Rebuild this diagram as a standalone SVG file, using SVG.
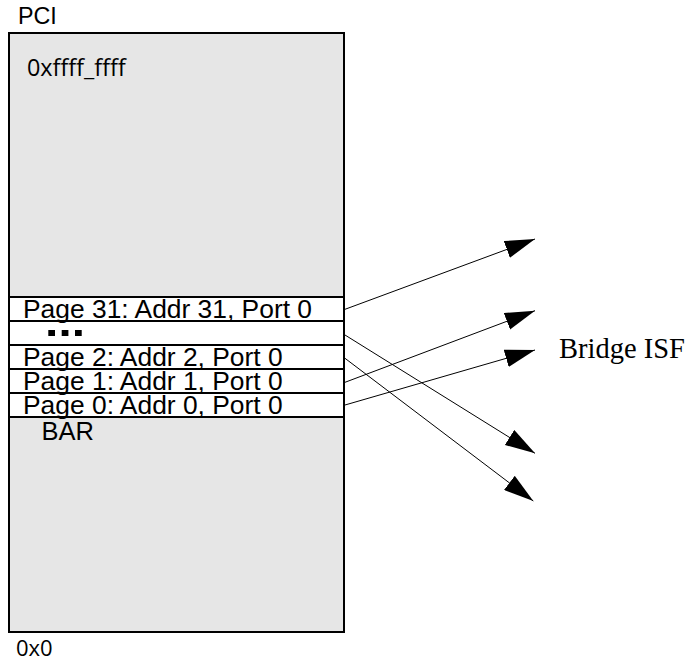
<svg xmlns="http://www.w3.org/2000/svg" width="690" height="662" viewBox="0 0 690 662">
<style>
.sans{font-family:"Liberation Sans",Arial,sans-serif;fill:#000}
.open{font-family:"Open Sans","Liberation Sans",sans-serif;fill:#000}
.row{font-family:"Liberation Sans",Arial,sans-serif;font-size:26.4px;fill:#000}
.sep{stroke:#000;stroke-width:2;fill:none}
.conn{stroke:#000;stroke-width:1;fill:none}
</style>
<defs>
<marker id="ah" markerUnits="userSpaceOnUse" markerWidth="30" markerHeight="18" viewBox="0 0 29 17.2" refX="29" refY="8.6" orient="auto">
<path d="M0,0 L29,8.6 L0,17.2 z" fill="#000"/>
</marker>
</defs>
<g id="pci-label"><text class="sans" x="18" y="23.5" font-size="23.3">PCI</text></g>
<g id="memory">
<rect x="9" y="33" width="335" height="599" fill="#e6e6e6" stroke="#000" stroke-width="2"/>
<text class="open" x="27" y="75.5" font-size="23.4">0xffff_ffff</text>
</g>
<g id="pages">
<rect x="9" y="297" width="335" height="120" fill="#fff"/>
<line class="sep" x1="9" y1="297" x2="344" y2="297"/>
<line class="sep" x1="9" y1="321" x2="344" y2="321"/>
<line class="sep" x1="9" y1="345" x2="344" y2="345"/>
<line class="sep" x1="9" y1="369" x2="344" y2="369"/>
<line class="sep" x1="9" y1="393" x2="344" y2="393"/>
<line class="sep" x1="9" y1="417" x2="344" y2="417"/>
<line class="sep" x1="9" y1="297" x2="9" y2="417"/>
<line class="sep" x1="344" y1="297" x2="344" y2="417"/>
<g id="page31"><text class="row" x="23" y="318">Page 31: Addr 31, Port 0</text></g>
<g id="dots"><rect x="48.3" y="330" width="6.7" height="6"/><rect x="61.7" y="330" width="6.7" height="6"/><rect x="75" y="330" width="6.7" height="6"/></g>
<g id="page2"><text class="row" x="23" y="365.5">Page 2: Addr 2, Port 0</text></g>
<g id="page1"><text class="row" x="23" y="389.5">Page 1: Addr 1, Port 0</text></g>
<g id="page0"><text class="row" x="23" y="413.5">Page 0: Addr 0, Port 0</text></g>
</g>
<g id="bar"><text class="sans" x="41.5" y="440" font-size="25.5">BAR</text></g>
<g id="zero"><text class="open" x="16" y="656" font-size="22">0x0</text></g>
<g id="bridge"><text x="559" y="358" font-family="'Liberation Serif','Times New Roman',serif" font-size="28.5">Bridge ISF</text></g>
<g id="connectors">
<line class="conn" x1="345" y1="309.3" x2="535" y2="239" marker-end="url(#ah)"/>
<line class="conn" x1="345" y1="382.3" x2="535" y2="310.7" marker-end="url(#ah)"/>
<line class="conn" x1="345" y1="405" x2="535" y2="350" marker-end="url(#ah)"/>
<line class="conn" x1="345" y1="335" x2="535" y2="453.3" marker-end="url(#ah)"/>
<line class="conn" x1="345" y1="358.3" x2="533.3" y2="501" marker-end="url(#ah)"/>
</g>
</svg>
